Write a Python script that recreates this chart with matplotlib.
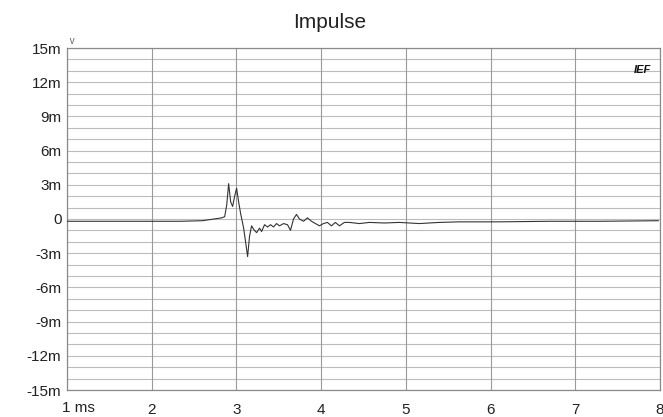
import matplotlib
matplotlib.use("Agg")
import matplotlib.pyplot as plt
import matplotlib.transforms as mtransforms
import numpy as np

# impulse response data (time in ms, amplitude in milli-units)
time_ms = [1.0, 1.5, 2.0, 2.33, 2.6, 2.826, 2.861, 2.885, 2.908, 2.932, 2.955, 2.979, 3.002,
           3.026, 3.049, 3.085, 3.108, 3.132, 3.155, 3.179, 3.203, 3.238, 3.273, 3.297,
           3.332, 3.367, 3.403, 3.438, 3.473, 3.509, 3.556, 3.603, 3.638, 3.674, 3.709,
           3.744, 3.792, 3.839, 3.886, 3.933, 3.980, 4.027, 4.074, 4.121, 4.168, 4.216,
           4.274, 4.333, 4.451, 4.569, 4.746, 4.922, 5.158, 5.393, 5.629, 6.10, 6.69,
           7.28, 7.98]
amp_m = [-0.2, -0.2, -0.2, -0.2, -0.15, 0.1, 0.2, 1.2, 3.1, 1.5, 1.1, 2.0, 2.7,
         1.5, 0.5, -0.8, -2.0, -3.3, -1.5, -0.6, -0.9, -1.2, -0.8, -1.1,
         -0.5, -0.7, -0.5, -0.7, -0.4, -0.6, -0.4, -0.5, -1.0, 0.0, 0.4,
         0.0, -0.2, 0.1, -0.2, -0.4, -0.6, -0.4, -0.3, -0.6, -0.3, -0.6,
         -0.3, -0.3, -0.4, -0.3, -0.35, -0.3, -0.4, -0.3, -0.25, -0.25, -0.2,
         -0.2, -0.15]

x_ticks = [1, 2, 3, 4, 5, 6, 7, 8]
x_tick_labels = ["", "2", "3", "4", "5", "6", "7", "8"]
first_x_label = "1 ms"
y_ticks = [15, 12, 9, 6, 3, 0, -3, -6, -9, -12, -15]
y_tick_labels = ["15m", "12m", "9m", "6m", "3m", "0", "-3m", "-6m", "-9m", "-12m", "-15m"]

plt.rcParams['font.family'] = ['Liberation Sans', 'DejaVu Sans']

fig = plt.figure(figsize=(6.63, 4.17), dpi=100)
ax = fig.add_axes([67/663, 1 - 390/417, (660 - 67)/663, (390 - 48)/417])

ax.set_xlim(1, 8)
ax.set_ylim(-15, 15)

# grid
for yv in range(-15, 16):
    ax.axhline(yv, color="#bcbcbc", lw=0.8, zorder=1)
for xv in x_ticks:
    ax.axvline(xv, color="#9a9a9a", lw=0.8, zorder=1)

ax.plot(time_ms, amp_m, color="#333333", lw=0.8, zorder=3)

ax.set_xticks(x_ticks)
ax.set_xticklabels(x_tick_labels)
ax.set_yticks(y_ticks)
ax.set_yticklabels(y_tick_labels)
ax.tick_params(length=0, labelsize=11, colors="#222222", pad=4)
ax.tick_params(axis='x', pad=9)
off = mtransforms.ScaledTranslation(-5/100, 0, fig.dpi_scale_trans)
ax.text(1, -0.033, first_x_label, transform=ax.get_xaxis_transform() + off, ha='left', va='top',
        fontsize=11, color="#222222")
for s in ax.spines.values():
    s.set_color("#8a8a8a")
    s.set_linewidth(0.9)

fig.text(330/663, 1 - 22/417, "Impulse", ha='center', va='center', fontsize=15, color="#222222")
ax.text(0.0, 1.005, " v", transform=ax.transAxes, ha='left', va='bottom', fontsize=7, color="#666666")
ax.text(0.985, 0.935, "IEF", transform=ax.transAxes, ha='right', va='center',
        fontsize=8, fontweight='bold', style='italic', color="#111111")

fig.savefig("out.png", dpi=100, facecolor="white")
